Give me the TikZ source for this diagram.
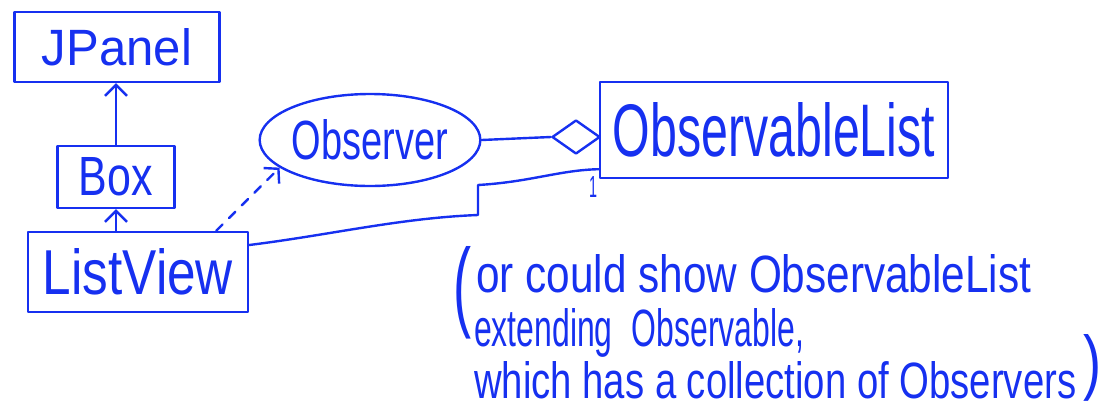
\documentclass[tikz,border=0pt]{standalone}
\usepackage{fontspec}
\setmainfont{Liberation Sans}
\usetikzlibrary{arrows.meta,shapes.geometric}
\definecolor{ink}{RGB}{22,48,240}
\newcommand{\fit}[3]{\resizebox{#1pt}{#2pt}{#3}}
\begin{document}
\begin{tikzpicture}[x=1pt,y=-1pt,line width=2.4pt,line cap=round,line join=round,
  every node/.style={text=ink,inner sep=0pt},
  cls/.style={draw=ink,rectangle},
  gen/.style={draw=ink,-{Straight Barb[length=11pt,width=22pt,line width=2.4pt]}},
  real/.style={draw=ink,dashed,dash pattern=on 9pt off 9pt,-{Straight Barb[length=10pt,width=22pt,line width=2.4pt]}},
  wire/.style={draw=ink}]
\useasboundingbox (0,0) rectangle (1113,410);

\node[cls,minimum width=205pt,minimum height=70pt] (jp) at (117,47) {\fit{150}{37}{JPanel}};
\node[cls,minimum width=117pt,minimum height=62pt] (box) at (116,177) {\fit{74}{38}{Box}};
\node[cls,minimum width=220pt,minimum height=80pt] (lv) at (138,272) {\fit{190}{46}{ListView}};
\node[draw=ink,ellipse,minimum width=214pt,minimum height=92pt] (obs) at (370,140) {\fit{156}{40}{Observer}};
\node[cls,minimum width=348pt,minimum height=96pt] (ol) at (774,130) {\fit{322}{54}{ObservableList}};
\node[draw=ink,diamond,aspect=1.45,minimum width=48pt,minimum height=34pt] (dia) at (576,137) {};

\draw[gen] (box.north) -- (box.north |- jp.south);
\draw[gen] (lv.north -| box.south) -- (box.south);
\draw[real] ([xshift=-33pt]lv.north east) -- (obs.197);
\draw[wire] (obs.east) -- (dia.west);

\coordinate (b1) at (478,215);
\coordinate (b2) at (478,185);
\draw[wire] ([yshift=27pt]lv.east) .. controls (330,235) and (400,218) .. (b1) -- (b2)
  .. controls (530,182) and (560,170) .. ([yshift=10pt]ol.south west);
\node[anchor=base] (mult) at (593,197) {\fit{8}{21}{1}};

\node[anchor=base west] (lp) at (452,318) {\fit{18}{72}{(}};
\node[anchor=base west] (n1) at (475,292) {\fit{555}{38}{or could show ObservableList}};
\node[anchor=base west] (n2) at (473,346) {\fit{330}{38}{extending\hspace{0.6em}Observable,}};
\node[anchor=base west] (n3) at (473,398) {\fit{602}{37}{which has a collection of Observers}};
\node[anchor=base west] (rp) at (1082,386) {\fit{18}{52}{)}};
\end{tikzpicture}
\end{document}
